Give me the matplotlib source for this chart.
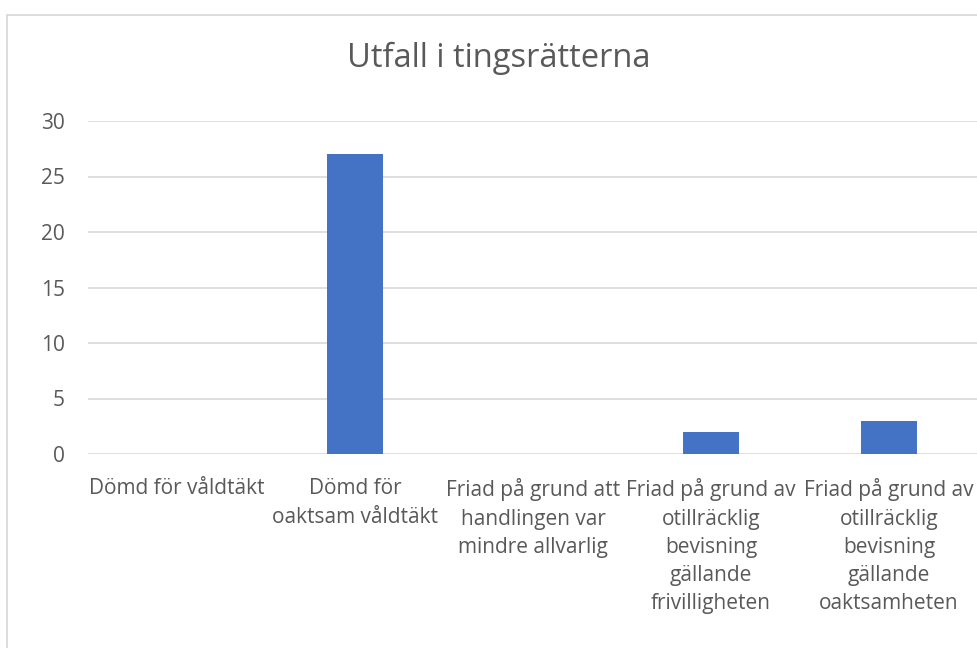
import matplotlib
matplotlib.use("Agg")
import matplotlib.pyplot as plt
from matplotlib.patches import Rectangle

categories = [
    "Dömd för våldtäkt",
    "Dömd för\noaktsam våldtäkt",
    "Friad på grund att\nhandlingen var\nmindre allvarlig",
    "Friad på grund av\notillräcklig\nbevisning\ngällande\nfrivilligheten",
    "Friad på grund av\notillräcklig\nbevisning\ngällande\noaktsamheten",
]
values = [0, 27, 0, 2, 3]
yticks = [0, 5, 10, 15, 20, 25, 30]
title = "Utfall i tingsrätterna"

plt.rcParams['font.family'] = ['Open Sans', 'DejaVu Sans']
text_color = "#595959"
grid_color = "#D9D9D9"
bar_color = "#4472C4"

fig = plt.figure(figsize=(9.77, 6.48), dpi=100)
# chart border
fig.patches.append(Rectangle((7/977, -0.1), 1.2, 1 - 15/648 + 0.1, transform=fig.transFigure,
                             fill=False, edgecolor=grid_color, linewidth=1.3))

ax = fig.add_axes([88/977, 1 - 454/648, 890/977, (454 - 121)/648])
x = range(len(categories))
ax.bar(x, values, width=0.315, color=bar_color, zorder=3)
ax.set_xlim(-0.5, len(categories) - 0.5)
ax.set_ylim(0, 30)
ax.set_yticks(yticks)
ax.set_yticklabels([str(v) for v in yticks], color=text_color, fontsize=15)
ax.set_xticks(list(x))
ax.set_xticklabels(categories, color=text_color, fontsize=15, linespacing=1.45, va='top')
ax.tick_params(axis='both', length=0)
ax.tick_params(axis='y', pad=16.5)
ax.tick_params(axis='x', pad=17.5)
ax.grid(axis='y', color=grid_color, linewidth=1.2, zorder=0)
for s in ax.spines.values():
    s.set_visible(False)
ax.set_facecolor('none')

fig.text(499/977, 1 - 58/648, title, ha='center', va='center', fontsize=23.5, color=text_color)

fig.savefig("out.png", dpi=100)
